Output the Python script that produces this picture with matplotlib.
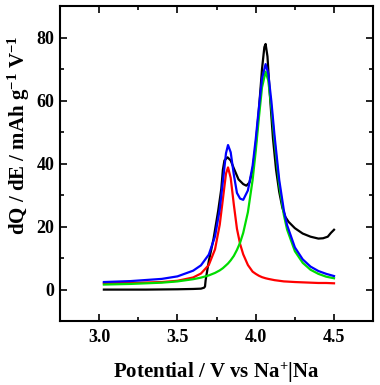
import matplotlib
matplotlib.use("Agg")
import matplotlib.pyplot as plt
from matplotlib.ticker import MultipleLocator

plt.rcParams['font.family'] = 'Liberation Serif'
plt.rcParams['font.weight'] = 'bold'
plt.rcParams['mathtext.fontset'] = 'custom'
plt.rcParams['mathtext.rm'] = 'Liberation Serif:bold'
plt.rcParams['mathtext.it'] = 'Liberation Serif:bold'
plt.rcParams['mathtext.bf'] = 'Liberation Serif:bold'

# measured dQ/dE curve
v_exp = [3.03, 3.3, 3.5, 3.6, 3.65, 3.67, 3.676, 3.68, 3.69, 3.70, 3.73, 3.76,
         3.78, 3.79, 3.80, 3.82, 3.84, 3.86, 3.89, 3.92, 3.94, 3.96, 3.98, 4.00,
         4.02, 4.04, 4.055, 4.063, 4.075, 4.09, 4.11, 4.13, 4.15, 4.17, 4.19,
         4.21, 4.25, 4.30, 4.35, 4.40, 4.43, 4.46, 4.48, 4.50]
q_exp = [0.0, 0.0, 0.1, 0.2, 0.3, 0.6, 1.0, 3.0, 6.0, 9.0, 16.0, 25.0,
         32.0, 38.0, 41.0, 42.0, 41.0, 38.5, 35.0, 33.5, 33.0, 34.0, 38.0, 46.0,
         57.0, 70.0, 77.0, 78.0, 74.0, 62.0, 48.0, 38.0, 31.0, 26.0, 23.0,
         21.5, 19.5, 17.8, 16.8, 16.2, 16.3, 16.8, 18.0, 19.0]

# fitted peaks
v_fit = [3.03, 3.2, 3.4, 3.5, 3.6, 3.65, 3.7, 3.74, 3.77, 3.79, 3.81, 3.823,
         3.84, 3.86, 3.88, 3.9, 3.92, 3.95, 3.98, 4.0, 4.02, 4.04, 4.063, 4.08,
         4.1, 4.12, 4.15, 4.18, 4.2, 4.25, 4.3, 4.35, 4.4, 4.45, 4.5]
q_peak1 = [2.0, 2.1, 2.4, 2.8, 3.85, 5.1, 7.8, 12.8, 20.6, 28.7, 36.8, 38.8,
           35.5, 27.0, 19.3, 14.5, 11.2, 7.8, 5.7, 5.0, 4.4, 3.95, 3.6, 3.4,
           3.2, 3.0, 2.8, 2.6, 2.55, 2.4, 2.3, 2.2, 2.1, 2.1, 2.0]
q_peak2 = [1.6, 1.8, 2.2, 2.6, 3.3, 3.8, 4.5, 5.3, 6.1, 6.8, 7.7, 8.3,
           9.3, 10.7, 12.6, 14.9, 18.0, 24.6, 34.8, 44.0, 54.5, 64.2, 69.2, 66.4,
           57.7, 47.1, 33.2, 23.6, 19.1, 12.2, 8.5, 6.3, 5.0, 4.1, 3.6]
q_sum = [2.4, 2.7, 3.4, 4.2, 6.0, 7.7, 11.1, 16.9, 25.5, 34.3, 43.3, 45.9,
         43.6, 36.5, 30.7, 28.9, 28.5, 31.5, 39.3, 47.8, 57.7, 67.0, 71.6, 68.6,
         59.7, 48.9, 34.8, 25.0, 20.5, 13.4, 9.6, 7.3, 5.9, 5.0, 4.3]

fig = plt.figure(figsize=(3.8, 3.85), dpi=100)
ax = fig.add_axes([0.158, 0.166, 0.824, 0.818])

ax.plot(v_exp, q_exp, color='black', lw=1.6)
ax.plot(v_fit, q_peak1, color='#ff0000', lw=1.6)
ax.plot(v_fit, q_peak2, color='#00dd00', lw=1.6)
ax.plot(v_fit, q_sum, color='#0000ff', lw=1.6)

ax.set_xlim(2.75, 4.75)
ax.set_ylim(-10, 90)
ax.xaxis.set_major_locator(MultipleLocator(0.5))
ax.xaxis.set_minor_locator(MultipleLocator(0.25))
ax.yaxis.set_major_locator(MultipleLocator(20))
ax.yaxis.set_minor_locator(MultipleLocator(10))
ax.tick_params(which='both', direction='in', top=True, right=True, width=1.2)
ax.tick_params(which='major', length=5, labelsize=13, pad=6)
ax.tick_params(axis='y', which='major', pad=4)
ax.tick_params(which='minor', length=3)
for sp in ax.spines.values():
    sp.set_linewidth(1.5)

ax.set_xlabel(r'Potential / V vs Na$^{+}$|Na', fontsize=15, fontweight='bold', labelpad=10)
ax.set_ylabel(r'dQ / dE / mAh g$^{-1}$ V$^{-1}$', fontsize=15, fontweight='bold')
ax.yaxis.set_label_coords(-0.088, 0.59)

fig.savefig('out.png', dpi=100)
